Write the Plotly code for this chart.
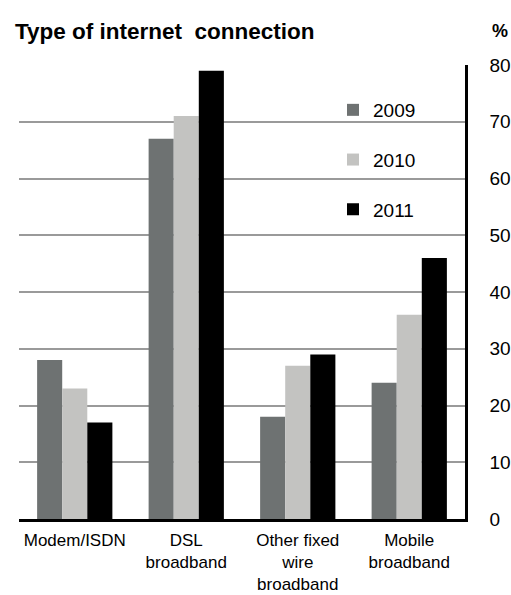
import plotly.graph_objects as go

categories = ["Modem/ISDN", "DSL<br>broadband", "Other fixed<br>wire<br>broadband", "Mobile<br>broadband"]
years = ["2009", "2010", "2011"]
v2009 = [28, 67, 18, 24]
v2010 = [23, 71, 27, 36]
v2011 = [17, 79, 29, 46]
y_ticks = [0, 10, 20, 30, 40, 50, 60, 70, 80]

colors = ["#6e7272", "#c3c3c1", "#000000"]
series = [v2009, v2010, v2011]

W, H = 511, 595
pl, pr, pt, pb = 19, 46, 65, 76
pw, ph = W - pl - pr, H - pt - pb
def px(x): return (x - pl) / pw
def py(y): return 1 - (y - pt) / ph

fig = go.Figure()
for i, (yr, vals) in enumerate(zip(years, series)):
    fig.add_trace(go.Bar(
        x=categories, y=vals, name=yr,
        marker=dict(color=colors[i], line=dict(width=0)),
        legendgroup=yr,
    ))

font = "Liberation Sans, Arial, sans-serif"
fig.update_layout(
    width=W, height=H,
    margin=dict(l=pl, r=pr, t=pt, b=pb, autoexpand=False),
    paper_bgcolor="white", plot_bgcolor="white",
    barmode="group", bargap=0.325, bargroupgap=0,
    font=dict(family=font, size=17, color="#000"),
    showlegend=True,
    legend=dict(x=px(333), y=py(91), xanchor="left", yanchor="top",
                bgcolor="rgba(0,0,0,0)", font=dict(size=19),
                tracegroupgap=22, itemwidth=30, traceorder="grouped"),
    xaxis=dict(showline=True, linecolor="#000", linewidth=2.5,
               showgrid=False, ticks="", tickfont=dict(size=17),
               ticklabelstandoff=4, automargin=False),
    yaxis=dict(side="right", range=[0, 80], tickvals=y_ticks,
               showgrid=True, gridcolor="#9a9a9a", gridwidth=2,
               showline=True, linecolor="#000", linewidth=2.5,
               zeroline=False, ticks="", ticklabelstandoff=18,
               tickfont=dict(size=19), automargin=False),
)
fig.add_annotation(text="<b>Type of internet  connection</b>", x=px(13), y=py(31),
                   xref="paper", yref="paper", xanchor="left", yanchor="middle",
                   showarrow=False, font=dict(size=22.5))
fig.add_annotation(text="<b>%</b>", x=px(500), y=py(31),
                   xref="paper", yref="paper", xanchor="center", yanchor="middle",
                   showarrow=False, font=dict(size=18))

fig.write_html("out.html")
